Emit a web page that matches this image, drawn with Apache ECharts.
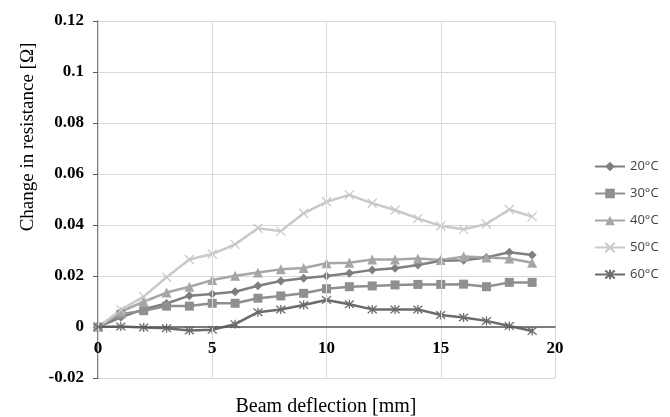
<!DOCTYPE html>
<html>
<head>
<meta charset="utf-8">
<script src="https://cdn.jsdelivr.net/npm/echarts@6/dist/echarts.min.js"></script>
<style>
html,body{margin:0;padding:0;background:#fff;}
#chart{width:670px;height:417px;}
</style>
</head>
<body>
<div id="chart"></div>
<script>
var deflection = [0,1,2,3,4,5,6,7,8,9,10,11,12,13,14,15,16,17,18,19];
var s20 = [0,0.0038,0.0070,0.0092,0.0123,0.0129,0.0138,0.0162,0.0180,0.0191,0.0200,0.0211,0.0224,0.0230,0.0243,0.0260,0.0262,0.0273,0.0293,0.0282];
var s30 = [0,0.0050,0.0064,0.0082,0.0082,0.0093,0.0093,0.0113,0.0122,0.0132,0.0150,0.0158,0.0161,0.0165,0.0167,0.0167,0.0168,0.0158,0.0175,0.0175];
var s40 = [0,0.0060,0.0099,0.0135,0.0158,0.0184,0.0201,0.0214,0.0226,0.0231,0.0250,0.0252,0.0265,0.0265,0.0269,0.0263,0.0276,0.0273,0.0269,0.0252];
var s50 = [0,0.0067,0.0119,0.0195,0.0265,0.0286,0.0324,0.0387,0.0376,0.0446,0.0491,0.0518,0.0485,0.0459,0.0426,0.0396,0.0383,0.0404,0.0461,0.0433];
var s60 = [0,0.0002,-0.0002,-0.0005,-0.0014,-0.0011,0.0011,0.0058,0.0069,0.0086,0.0106,0.0089,0.0069,0.0069,0.0069,0.0047,0.0037,0.0024,0.0004,-0.0016];
var seriesNames = ['20°C','30°C','40°C','50°C','60°C'];
var xTicks = [0,5,10,15,20];
var yTicks = [-0.02,0,0.02,0.04,0.06,0.08,0.1,0.12];

function pairs(arr){ return arr.map(function(v,i){ return [deflection[i], v]; }); }

var crossPath = 'path://M0,0L10,10M10,0L0,10';
var starPath = 'path://M0,0L10,10M10,0L0,10M5,-1L5,11';

var gridTop = 21, gridBottom = 39, H = 417;
var yMin = yTicks[0], yMax = yTicks[yTicks.length-1];
var plotH = H - gridTop - gridBottom;
// move the x axis up so it sits on the zero line
var xAxisOffset = -plotH * (0 - yMin) / (yMax - yMin);

function mk(name, data, color, symbol, size, stroke) {
  return {
    name: name, type: 'line', data: pairs(data),
    symbol: symbol, symbolSize: size,
    lineStyle: {color: color, width: 2.5},
    itemStyle: stroke ? {color: 'rgba(0,0,0,0)', borderColor: color, borderWidth: 1.3} : {color: color},
    emphasis: {disabled: true},
    z: 3
  };
}

var chart = echarts.init(document.getElementById('chart'), null, {renderer: 'canvas'});
chart.setOption({
  animation: false,
  backgroundColor: '#fff',
  grid: {left: 98, right: 115, top: gridTop, bottom: gridBottom, containLabel: false},
  legend: {
    orient: 'vertical', left: 589, top: 155,
    itemWidth: 30, itemHeight: 12, itemGap: 14,
    textStyle: {fontFamily: 'Open Sans', fontSize: 13, color: '#404040'},
    data: seriesNames
  },
  xAxis: {
    type: 'value', min: xTicks[0], max: xTicks[xTicks.length-1], interval: 5,
    position: 'bottom', offset: xAxisOffset,
    axisLine: {onZero: false, lineStyle: {color: '#595959', width: 1.5}},
    axisTick: {show: false},
    axisLabel: {margin: 13, fontFamily: 'Liberation Serif', fontWeight: 'bold', fontSize: 17, color: '#000'},
    splitLine: {show: true, lineStyle: {color: '#d9d9d9', width: 1}},
    z: 4
  },
  yAxis: {
    type: 'value', min: yMin, max: yMax, interval: 0.02,
    axisLine: {show: true, onZero: false, lineStyle: {color: '#595959', width: 1.5}},
    axisTick: {show: true, inside: false, length: 5, lineStyle: {color: '#595959'}},
    axisLabel: {margin: 14, fontFamily: 'Liberation Serif', fontWeight: 'bold', fontSize: 17, color: '#000',
      formatter: function(v){ return String(parseFloat(v.toFixed(2))); }},
    splitLine: {show: true, lineStyle: {color: '#d9d9d9', width: 1}}
  },
  graphic: [
    {type: 'text', x: 326, y: 407, style: {text: 'Beam deflection [mm]', font: '20px "Liberation Serif"', fill: '#000', align: 'center', verticalAlign: 'middle'}},
    {type: 'text', x: 28, y: 137, rotation: Math.PI/2, style: {text: 'Change in resistance [Ω]', font: '19px "Liberation Serif"', fill: '#000', align: 'center', verticalAlign: 'middle'}}
  ],
  series: [
    mk(seriesNames[0], s20, '#7f7f7f', 'diamond', 9, false),
    mk(seriesNames[1], s30, '#8f8f8f', 'rect', 9, false),
    mk(seriesNames[2], s40, '#a6a6a6', 'triangle', 10, false),
    mk(seriesNames[3], s50, '#c9c9c9', crossPath, 9, true),
    mk(seriesNames[4], s60, '#6b6b6b', starPath, 9, true)
  ]
});
</script>
</body>
</html>
